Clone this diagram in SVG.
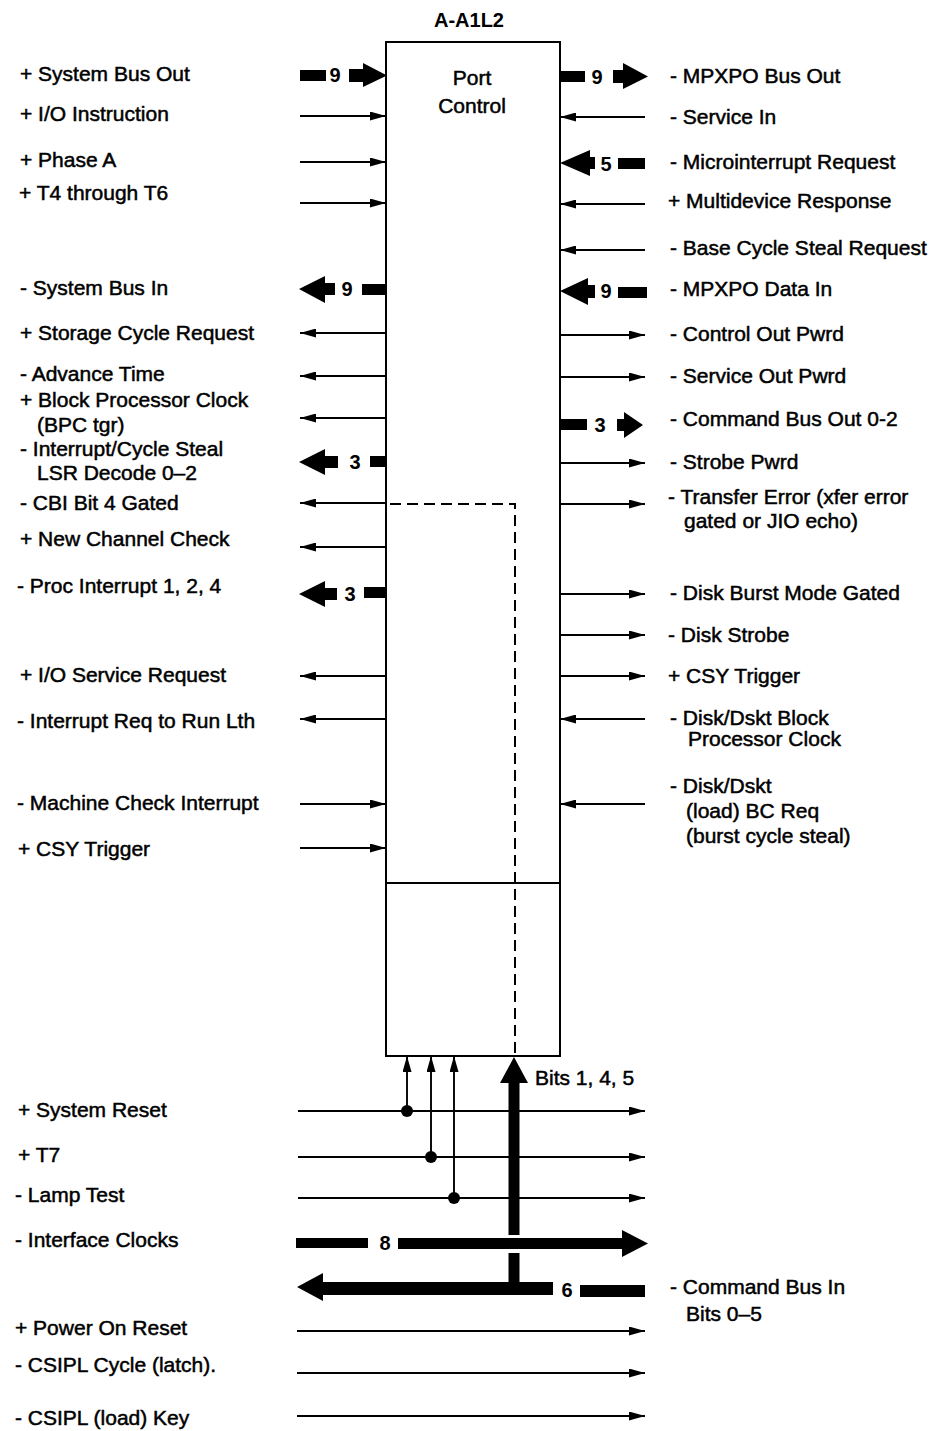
<svg xmlns="http://www.w3.org/2000/svg" width="931" height="1431" viewBox="0 0 931 1431">
<style>
text{font-family:"Liberation Sans",Arial,sans-serif;font-size:21px;fill:#000;stroke:#000;stroke-width:0.5}
.t{font-weight:bold;font-size:20px;stroke-width:0}
.c{text-anchor:middle}
.n{text-anchor:middle;font-weight:bold;font-size:20px;stroke-width:0}
.ln{stroke:#000;stroke-width:1.9;fill:none;marker-end:url(#ah)}
.bx{stroke:#000;stroke-width:2;fill:none}
.bus{fill:#000;stroke:none}
.dash{stroke:#000;stroke-width:2;fill:none;stroke-dasharray:11 6}
</style>
<defs>
<marker id="ah" viewBox="0 0 16 9" refX="16" refY="4.5" markerWidth="16" markerHeight="9" markerUnits="userSpaceOnUse" orient="auto">
<path d="M0,0 L16,4.5 L0,9 z" fill="#000"/>
</marker>
</defs>
<rect width="931" height="1431" fill="#fff"/>

<g id="block">
<rect class="bx" x="386" y="42" width="174" height="1014"/>
<line class="bx" x1="386" y1="883" x2="560" y2="883"/>
<text class="t c" x="469" y="27">A-A1L2</text>
<text class="c" x="472" y="85">Port</text>
<text class="c" x="472" y="113">Control</text>
</g>

<g id="connectors">
<!-- left inputs -->
<path class="ln" d="M300,116 H386"/>
<path class="ln" d="M300,162 H386"/>
<path class="ln" d="M300,203 H386"/>
<path class="ln" d="M300,804 H386"/>
<path class="ln" d="M300,848 H386"/>
<!-- left outputs -->
<path class="ln" d="M386,333 H300"/>
<path class="ln" d="M386,376 H300"/>
<path class="ln" d="M386,418 H300"/>
<path class="ln" d="M386,503 H300"/>
<path class="ln" d="M386,547 H300"/>
<path class="ln" d="M386,676 H300"/>
<path class="ln" d="M386,719 H300"/>
<!-- right inputs -->
<path class="ln" d="M645,117 H560"/>
<path class="ln" d="M645,204 H560"/>
<path class="ln" d="M645,250 H560"/>
<path class="ln" d="M645,719 H560"/>
<path class="ln" d="M645,804 H560"/>
<!-- right outputs -->
<path class="ln" d="M560,335 H645"/>
<path class="ln" d="M560,377 H645"/>
<path class="ln" d="M560,463 H645"/>
<path class="ln" d="M560,504 H645"/>
<path class="ln" d="M560,594 H645"/>
<path class="ln" d="M560,635 H645"/>
<path class="ln" d="M560,676 H645"/>
<!-- dashed -->
<path class="dash" d="M390,504 H515 V1056"/>

<!-- bus: System Bus Out (left in) -->
<rect class="bus" x="300" y="70" width="26" height="11"/>
<text class="n" x="335" y="82">9</text>
<polygon class="bus" points="349,69 363,69 363,63 387,75.5 363,87 363,82 349,82"/>
<!-- bus: MPXPO Bus Out (right out) -->
<rect class="bus" x="560" y="71" width="25" height="11"/>
<text class="n" x="597" y="84">9</text>
<polygon class="bus" points="613,70 623,70 623,63 648,76.5 623,89 623,83 613,83"/>
<!-- bus: Microinterrupt Request (right in) -->
<polygon class="bus" points="560,163 590,150 590,157 595,157 595,169 590,169 590,176"/>
<text class="n" x="606" y="171">5</text>
<rect class="bus" x="618" y="158" width="27" height="11"/>
<!-- bus: System Bus In (left out) -->
<polygon class="bus" points="299,289 325,276 325,283 335,283 335,295 325,295 325,303"/>
<text class="n" x="347" y="296">9</text>
<rect class="bus" x="362" y="284" width="24" height="11"/>
<!-- bus: MPXPO Data In (right in) -->
<polygon class="bus" points="560,291 588,278 588,285 595,285 595,298 588,298 588,305"/>
<text class="n" x="606" y="298">9</text>
<rect class="bus" x="618" y="287" width="29" height="11"/>
<!-- bus: Command Bus Out 0-2 (right out) -->
<rect class="bus" x="560" y="419" width="27" height="11"/>
<text class="n" x="600" y="432">3</text>
<polygon class="bus" points="617,419 624,419 624,412 643,425 624,438 624,431 617,431"/>
<!-- bus: Interrupt/Cycle Steal (left out) -->
<polygon class="bus" points="299,462 325,449 325,456 338,456 338,468 325,468 325,475"/>
<text class="n" x="355" y="469">3</text>
<rect class="bus" x="370" y="456" width="16" height="11"/>
<!-- bus: Proc Interrupt (left out) -->
<polygon class="bus" points="299,594 325,581 325,588 337,588 337,600 325,600 325,607"/>
<text class="n" x="350" y="601">3</text>
<rect class="bus" x="364" y="587" width="22" height="11"/>

<!-- bottom thin lines -->
<path class="ln" d="M298,1111 H645"/>
<path class="ln" d="M298,1157 H645"/>
<path class="ln" d="M298,1198 H645"/>
<path class="ln" d="M297,1331 H645"/>
<path class="ln" d="M297,1373 H645"/>
<path class="ln" d="M297,1416 H645"/>
<!-- taps -->
<path class="ln" d="M407,1111 V1056"/>
<path class="ln" d="M431,1157 V1056"/>
<path class="ln" d="M454,1198 V1056"/>
<circle cx="407" cy="1111" r="6" fill="#000"/>
<circle cx="431" cy="1157" r="6" fill="#000"/>
<circle cx="454" cy="1198" r="6" fill="#000"/>

<!-- big vertical Bits 1,4,5 -->
<polygon class="bus" points="514,1057 528,1083 519.5,1083 519.5,1235 508.5,1235 508.5,1083 500,1083"/>
<rect class="bus" x="508.5" y="1253" width="11" height="35"/>
<!-- Interface Clocks 8 bus -->
<rect class="bus" x="296" y="1238" width="72" height="10"/>
<text class="n" x="385" y="1250">8</text>
<polygon class="bus" points="398,1238 622,1238 622,1230 648,1243.5 622,1257 622,1249 398,1249"/>
<!-- Command Bus In 6 bus -->
<polygon class="bus" points="297,1287 323,1273 323,1282 553,1282 553,1295 323,1295 323,1301"/>
<text class="n" x="567" y="1297">6</text>
<rect class="bus" x="580" y="1285" width="65" height="12"/>
</g>

<g id="left-labels">
<text x="20" y="81">+ System Bus Out</text>
<text x="20" y="121">+ I/O Instruction</text>
<text x="20" y="167">+ Phase A</text>
<text x="19" y="200">+ T4 through T6</text>
<text x="20" y="295">- System Bus In</text>
<text x="20" y="340">+ Storage Cycle Request</text>
<text x="20" y="381">- Advance Time</text>
<text x="20" y="407">+ Block Processor Clock</text>
<text x="37" y="432">(BPC tgr)</text>
<text x="20" y="456">- Interrupt/Cycle Steal</text>
<text x="37" y="480">LSR Decode 0–2</text>
<text x="20" y="510">- CBI Bit 4 Gated</text>
<text x="20" y="546">+ New Channel Check</text>
<text x="17" y="593">- Proc Interrupt 1, 2, 4</text>
<text x="20" y="682">+ I/O Service Request</text>
<text x="17" y="728">- Interrupt Req to Run Lth</text>
<text x="17" y="810">- Machine Check Interrupt</text>
<text x="18" y="856">+ CSY Trigger</text>
<text x="18" y="1117">+ System Reset</text>
<text x="18" y="1162">+ T7</text>
<text x="15" y="1202">- Lamp Test</text>
<text x="15" y="1247">- Interface Clocks</text>
<text x="15" y="1335">+ Power On Reset</text>
<text x="15" y="1372">- CSIPL Cycle (latch).</text>
<text x="15" y="1425">- CSIPL (load) Key</text>
</g>

<g id="right-labels">
<text x="670" y="83">- MPXPO Bus Out</text>
<text x="670" y="124">- Service In</text>
<text x="670" y="169">- Microinterrupt Request</text>
<text x="668" y="208">+ Multidevice Response</text>
<text x="670" y="255">- Base Cycle Steal Request</text>
<text x="670" y="296">- MPXPO Data In</text>
<text x="670" y="341">- Control Out Pwrd</text>
<text x="670" y="383">- Service Out Pwrd</text>
<text x="670" y="426">- Command Bus Out 0-2</text>
<text x="670" y="469">- Strobe Pwrd</text>
<text x="668" y="504">- Transfer Error (xfer error</text>
<text x="684" y="528">gated or JIO echo)</text>
<text x="670" y="600">- Disk Burst Mode Gated</text>
<text x="668" y="642">- Disk Strobe</text>
<text x="668" y="683">+ CSY Trigger</text>
<text x="670" y="725">- Disk/Dskt Block</text>
<text x="688" y="746">Processor Clock</text>
<text x="670" y="793">- Disk/Dskt</text>
<text x="686" y="818">(load) BC Req</text>
<text x="686" y="843">(burst cycle steal)</text>
<text x="535" y="1085">Bits 1, 4, 5</text>
<text x="670" y="1294">- Command Bus In</text>
<text x="686" y="1321">Bits 0–5</text>
</g>
</svg>
